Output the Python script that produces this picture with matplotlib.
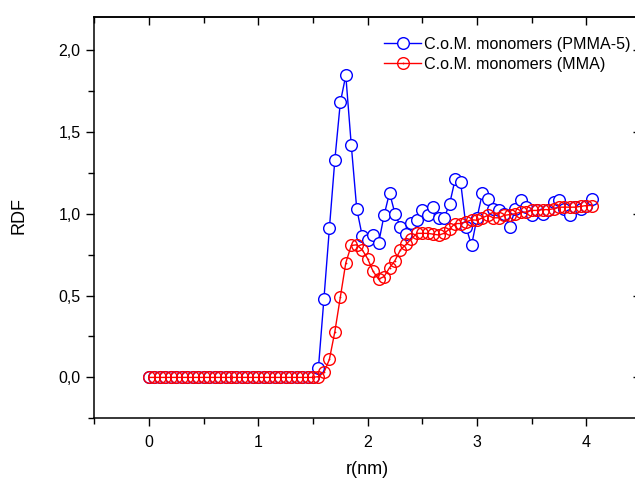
import matplotlib
matplotlib.use("Agg")
import matplotlib.pyplot as plt
from matplotlib.ticker import MultipleLocator, FuncFormatter
from matplotlib.legend_handler import HandlerTuple

plt.rcParams['font.family'] = ['Liberation Sans', 'DejaVu Sans']

# r grid (nm)
r = [0.00, 0.05, 0.10, 0.15, 0.20, 0.25, 0.30, 0.35, 0.40, 0.45,
     0.50, 0.55, 0.60, 0.65, 0.70, 0.75, 0.80, 0.85, 0.90, 0.95,
     1.00, 1.05, 1.10, 1.15, 1.20, 1.25, 1.30, 1.35, 1.40, 1.45,
     1.50, 1.55, 1.60, 1.65, 1.70, 1.75, 1.80, 1.85, 1.90, 1.95,
     2.00, 2.05, 2.10, 2.15, 2.20, 2.25, 2.30, 2.35, 2.40, 2.45,
     2.50, 2.55, 2.60, 2.65, 2.70, 2.75, 2.80, 2.85, 2.90, 2.95,
     3.00, 3.05, 3.10, 3.15, 3.20, 3.25, 3.30, 3.35, 3.40, 3.45,
     3.50, 3.55, 3.60, 3.65, 3.70, 3.75, 3.80, 3.85, 3.90, 3.95,
     4.00, 4.05]

# C.o.M. monomers (PMMA-5)
rdf_pmma = [0.00, 0.00, 0.00, 0.00, 0.00, 0.00, 0.00, 0.00, 0.00, 0.00,
            0.00, 0.00, 0.00, 0.00, 0.00, 0.00, 0.00, 0.00, 0.00, 0.00,
            0.00, 0.00, 0.00, 0.00, 0.00, 0.00, 0.00, 0.00, 0.00, 0.00,
            0.00, 0.06, 0.48, 0.91, 1.33, 1.68, 1.845, 1.42, 1.03, 0.865,
            0.84, 0.87, 0.82, 0.99, 1.128, 1.00, 0.92, 0.877, 0.942, 0.959,
            1.024, 0.99, 1.04, 0.975, 0.975, 1.061, 1.21, 1.193, 0.918, 0.806,
            0.975, 1.128, 1.092, 1.026, 1.024, 0.996, 0.918, 1.03, 1.086, 1.04,
            0.99, 1.02, 1.00, 1.02, 1.071, 1.086, 1.03, 0.99, 1.04, 1.03,
            1.05, 1.09]

# C.o.M. monomers (MMA)
rdf_mma = [0.00, 0.00, 0.00, 0.00, 0.00, 0.00, 0.00, 0.00, 0.00, 0.00,
           0.00, 0.00, 0.00, 0.00, 0.00, 0.00, 0.00, 0.00, 0.00, 0.00,
           0.00, 0.00, 0.00, 0.00, 0.00, 0.00, 0.00, 0.00, 0.00, 0.00,
           0.00, 0.005, 0.03, 0.11, 0.28, 0.49, 0.70, 0.806, 0.81, 0.78,
           0.725, 0.647, 0.60, 0.616, 0.67, 0.714, 0.78, 0.812, 0.847, 0.88,
           0.88, 0.88, 0.875, 0.87, 0.88, 0.908, 0.94, 0.94, 0.95, 0.963,
           0.96, 0.975, 0.99, 0.975, 0.975, 0.99, 0.995, 1.00, 1.01, 1.01,
           1.02, 1.02, 1.025, 1.025, 1.03, 1.04, 1.04, 1.04, 1.04, 1.045,
           1.05, 1.05]

fig = plt.figure(figsize=(6.35, 4.80), dpi=100)
ax = fig.add_axes([0.1485, 0.1285, 0.861, 0.8355])

blue = '#0000ff'
red = '#ff0000'

l1, = ax.plot(r, rdf_pmma, color=blue, lw=1.0, marker='o', ms=8.4,
              mfc='white', mec=blue, mew=1.0)
l2, = ax.plot(r, rdf_mma, color=red, lw=1.0, marker='o', ms=8.4,
              mfc='none', mec=red, mew=1.0)
d2, = ax.plot(r, rdf_mma, ls='none', marker='o', ms=1.3, color=red, mew=0)

ax.set_xlim(-0.5, 4.5)
ax.set_ylim(-0.25, 2.2)

ax.xaxis.set_major_locator(MultipleLocator(1))
ax.xaxis.set_minor_locator(MultipleLocator(0.5))
ax.yaxis.set_major_locator(MultipleLocator(0.5))
ax.yaxis.set_minor_locator(MultipleLocator(0.25))
ax.yaxis.set_major_formatter(FuncFormatter(lambda v, p: f"{v:.1f}".replace('.', ',')))
ax.xaxis.set_major_formatter(FuncFormatter(lambda v, p: f"{v:.0f}"))

ax.tick_params(which='major', direction='out', length=6, width=1.0,
               labelsize=11.5, top=False, right=False)
ax.tick_params(axis='x', which='major', pad=6)
ax.tick_params(axis='y', which='major', pad=4)
ax.tick_params(which='minor', direction='out', length=4.5, width=1.0,
               top=False, right=False)
for s in ax.spines.values():
    s.set_linewidth(1.1)

# inward ticks on top and right
top = ax.secondary_xaxis('top')
top.xaxis.set_major_locator(MultipleLocator(1))
top.xaxis.set_minor_locator(MultipleLocator(0.5))
top.tick_params(which='major', direction='in', length=6, width=1.0, labeltop=False)
top.tick_params(which='minor', direction='in', length=4.5, width=1.0)
top.spines['top'].set_linewidth(1.1)
right = ax.secondary_yaxis('right')
right.yaxis.set_major_locator(MultipleLocator(0.5))
right.yaxis.set_minor_locator(MultipleLocator(0.25))
right.tick_params(which='major', direction='in', length=6, width=1.0, labelright=False)
right.tick_params(which='minor', direction='in', length=3, width=1.0)
right.spines['right'].set_linewidth(1.1)

ax.set_xlabel('r(nm)', fontsize=13, va='center')
ax.set_ylabel('RDF', fontsize=13, va='center')
ax.xaxis.set_label_coords(0.5, -0.128)
ax.yaxis.set_label_coords(-0.138, 0.505)

ax.legend([l1, (l2, d2)],
          ['C.o.M. monomers (PMMA-5)', 'C.o.M. monomers (MMA)'],
          handler_map={tuple: HandlerTuple(ndivide=1)},
          loc='upper left', bbox_to_anchor=(384 / 635, 1 - 37 / 480),
          bbox_transform=fig.transFigure, frameon=False, fontsize=11.6,
          borderpad=0, borderaxespad=0, handlelength=2.3, handletextpad=0.2,
          labelspacing=0.28)

fig.savefig('out.png', dpi=100)
